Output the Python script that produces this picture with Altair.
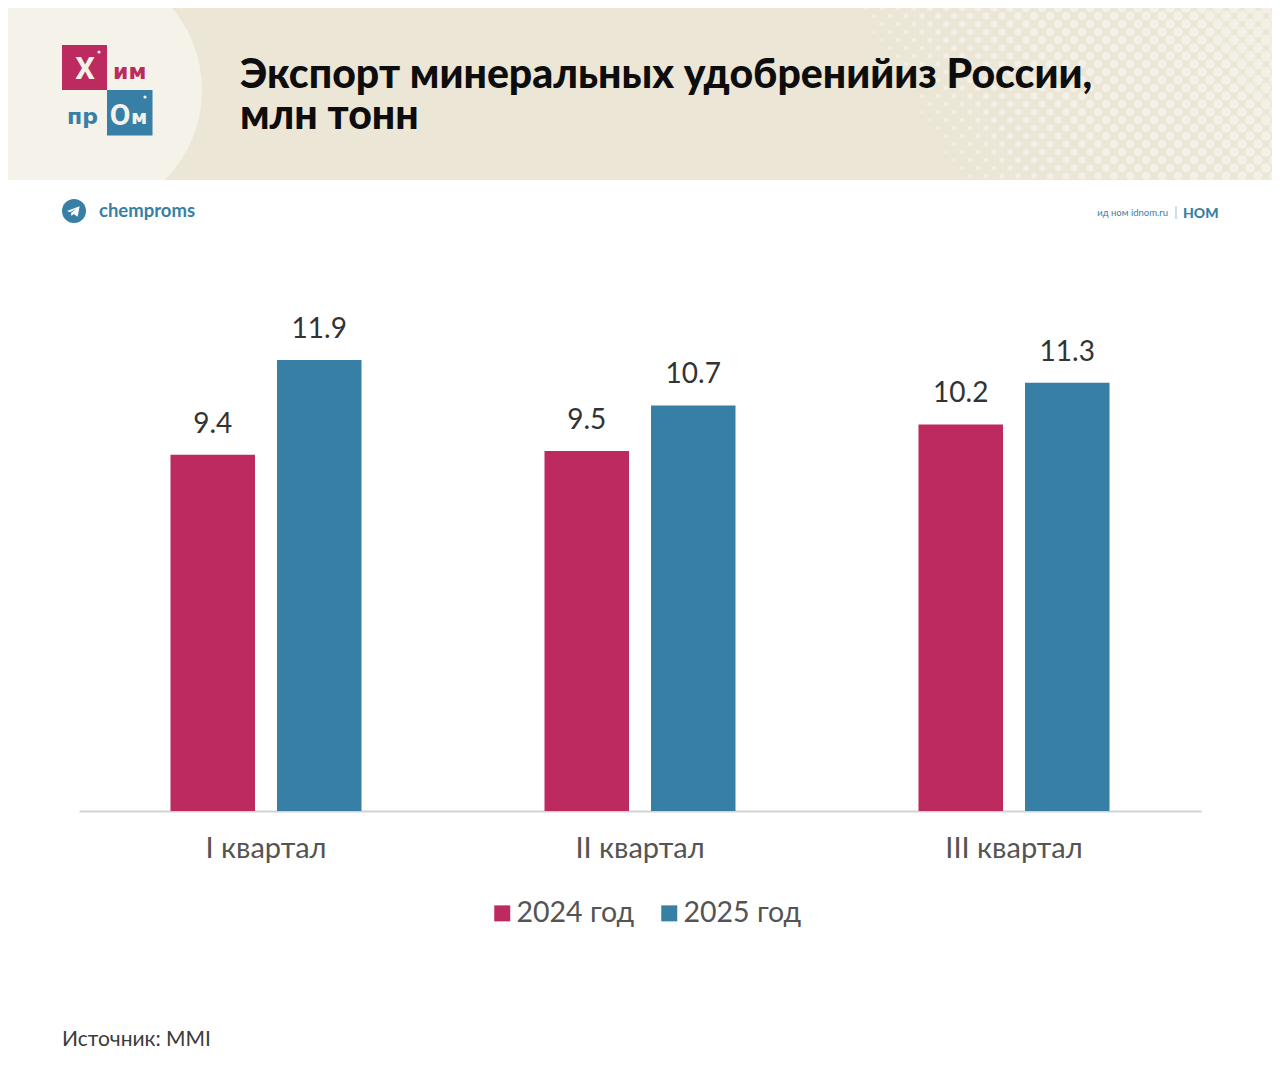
import altair as alt
import pandas as pd

quarters = ["I квартал", "II квартал", "III квартал"]
years = ["2024 год", "2025 год"]
values_2024 = [9.4, 9.5, 10.2]
values_2025 = [11.9, 10.7, 11.3]
colors = ["#bd2a60", "#377fa5"]

FONT = "Lato"
PX = lambda v: v - 8  # page coordinates to chart coordinates

rows = []
for q, a, b in zip(quarters, values_2024, values_2025):
    rows.append({"q": q, "year": years[0], "v": a})
    rows.append({"q": q, "year": years[1], "v": b})
df = pd.DataFrame(rows)
one = alt.Data(values=[{"a": 1}])


def rect(x0, y0, x1, y1, color):
    return alt.Chart(one).mark_rect(color=color, stroke=None).encode(
        x=alt.value(PX(x0)), x2=alt.value(PX(x1)), y=alt.value(PX(y0)), y2=alt.value(PX(y1)))


def text(s, x, y, size, color, weight="normal", align="left", font=FONT):
    return alt.Chart(one).mark_text(text=s, fontSize=size, color=color, fontWeight=weight,
                                    align=align, baseline="alphabetic", font=font).encode(
        x=alt.value(PX(x)), y=alt.value(PX(y)))


def dot(x, y, radius, color):
    return alt.Chart(one).mark_point(filled=True, shape="circle", size=(2 * radius) ** 2, color=color, opacity=1).encode(
        x=alt.value(PX(x)), y=alt.value(PX(y)))


# decorative halftone texture of the header band
texture = []
for row in range(0, 23):
    for col in range(0, 28):
        px = 850 + col * 16 + (8 if row % 2 else 0)
        py = 8 + row * 8
        t = (px - 850 - ((py - 8) * 0.6)) / 430
        if t > 0:
            texture.append({"px": PX(px), "py": PX(py), "s": min(125, 125 * t ** 0.8)})
dots = alt.Chart(alt.Data(values=texture)).mark_circle(color="#f6f3ec", opacity=0.75).encode(
    x=alt.X("px:Q", scale=None, axis=None),
    y=alt.Y("py:Q", scale=None, axis=None),
    size=alt.Size("s:Q", scale=None, legend=None),
)

x_enc = alt.X("q:N", sort=quarters, title=None,
              scale=alt.Scale(domain=quarters, range=[PX(79), PX(1201)], paddingInner=0, paddingOuter=0),
              axis=alt.Axis(labelAngle=0, labelFont=FONT, labelFontSize=29, labelColor="#545454",
                            labelPadding=23, ticks=False, domainColor="#d2d2d2", domainWidth=2,
                            grid=False))
xo_enc = alt.XOffset("year:N", sort=years,
                     scale=alt.Scale(domain=years, paddingInner=0.2066, paddingOuter=0.859))
y_enc = alt.Y("v:Q", axis=None, scale=alt.Scale(domain=[0, 21.187]))

bars = alt.Chart(df).mark_bar(stroke=None).encode(
    x=x_enc, xOffset=xo_enc, y=y_enc,
    color=alt.Color("year:N", sort=years,
                    scale=alt.Scale(domain=years, range=colors),
                    legend=alt.Legend(orient="none", legendX=PX(488), legendY=PX(899), direction="horizontal",
                                      title=None, symbolType="square", symbolSize=256, symbolStrokeWidth=0,
                                      labelFont=FONT, labelFontSize=28.5, labelColor="#545454",
                                      labelOffset=0, columnPadding=20, padding=0, symbolOpacity=1)))
labels = alt.Chart(df).mark_text(font=FONT, fontSize=28, color="#333333", baseline="alphabetic", dy=-22).encode(
    x=x_enc, xOffset=xo_enc, y=y_enc, text=alt.Text("v:Q", format=".1f"))

plane = ("M-0.8,-0.05 L0.75,-0.65 L0.5,0.65 L0.02,0.3 L-0.25,0.55 L-0.3,0.18 L0.4,-0.4 L-0.42,0.1 Z")
LOGO = "Roboto"
WIDE = "DejaVu Sans"

layers = [
    rect(8, 8, 1272, 180, "#ece6d6"),
    dots,
    dot(74, 90, 128, "#f5f2ea"),
    rect(8, 180, 1272, 240, "#ffffff"),
    # logo
    rect(62, 45, 107, 90, "#bd2a60"),
    rect(107, 90, 152.5, 135.5, "#377fa5"),
    dot(99, 52, 1.6, "#f5f2ea"),
    dot(145, 97, 1.6, "#f5f2ea"),
    text("Х", 85, 79, 31, "#f5f2ea", "bold", "center", LOGO),
    text("им", 113, 79, 22, "#bd2a60", "bold", "left", WIDE),
    text("пр", 67, 124, 22, "#377fa5", "bold", "left", WIDE),
    text("О", 120, 125, 30, "#f5f2ea", "bold", "center", LOGO),
    text("м", 131, 124, 20, "#f5f2ea", "bold", "left", WIDE),
    # title
    text("Экспорт минеральных удобренийиз России,", 240, 88, 41, "#0d0d0d", 900),
    text("млн тонн", 240, 129, 41, "#0d0d0d", 900),
    # channel line
    dot(74, 211, 12, "#377fa5"),
    alt.Chart(one).mark_point(shape=plane, filled=True, size=270, color="#ffffff", opacity=1).encode(
        x=alt.value(PX(73.5)), y=alt.value(PX(211.5))),
    text("chemproms", 99, 217, 18.5, "#377fa5", "bold"),
    text("ид ном idnom.ru", 1168, 216, 9.5, "#377fa5", "normal", "right"),
    rect(1175.5, 206, 1176.5, 219, "#9bbdd0"),
    text("НОМ", 1183, 218, 14, "#377fa5", 900),
    # source
    text("Источник: MMI", 62, 1046, 21, "#3c3c3c"),
    alt.layer(bars, labels),
]

chart = (
    alt.layer(*layers)
    .resolve_scale(x="independent", y="independent")
    .properties(width=1264, height=803, padding={"left": 0, "top": 0, "right": 0, "bottom": 260},
                autosize=alt.AutoSizeParams(type="none"), background="#ffffff")
    .configure_view(stroke=None)
)

chart.save("out.html", embed_options={"renderer": "svg", "actions": False})
